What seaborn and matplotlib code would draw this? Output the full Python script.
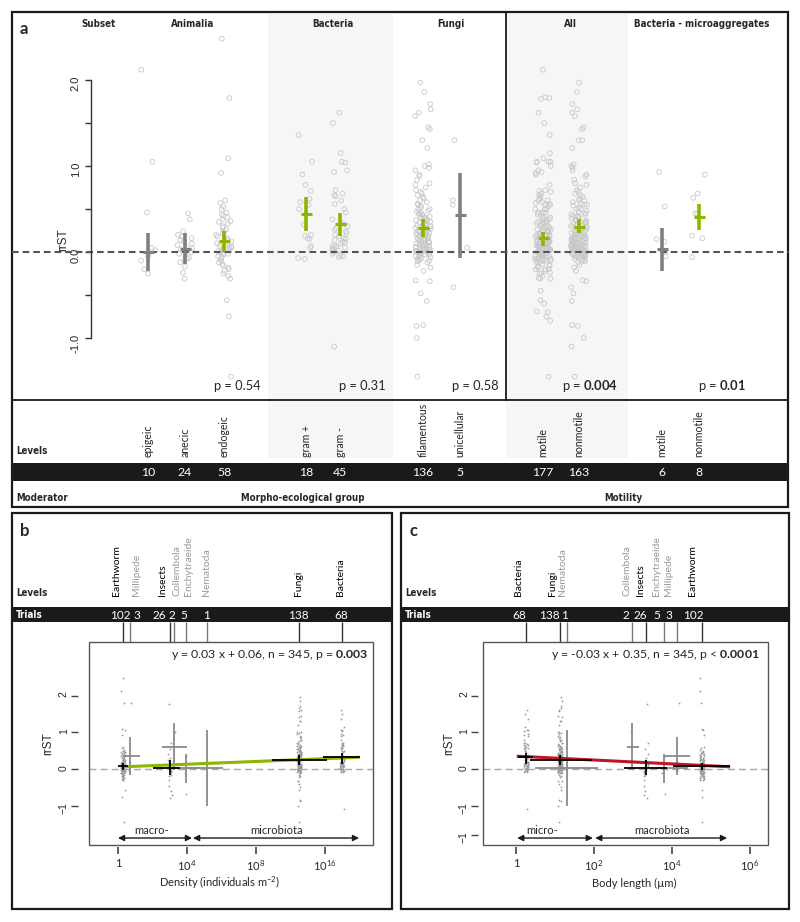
import numpy as np
import matplotlib
matplotlib.use('Agg')
import matplotlib.pyplot as plt
from matplotlib import font_manager
from matplotlib.font_manager import FontProperties
from matplotlib.patches import Rectangle
import seaborn as sns

# ---------------- data ----------------
# panel a: rrST of single trials per moderator level
epigeic = [2.12, 1.05, 0.46, 0.05, 0.02, -0.03, -0.05, -0.10, -0.20, -0.25]
anecic = [0.45, 0.38, 0.24, 0.20, 0.18, 0.16, 0.14, 0.12, 0.10, 0.08, 0.06, 0.04,
          0.03, 0.02, 0.00, -0.02, -0.04, -0.06, -0.08, -0.10, -0.12, -0.17, -0.24, -0.31]
endogeic = [2.48, 1.79, 1.09, 0.92, 0.60, 0.57, 0.53, 0.50, 0.46, 0.44,
            0.42, 0.40, 0.38, 0.36, 0.35, 0.33, 0.30, 0.28, 0.26, 0.24,
            0.22, 0.20, 0.18, 0.16, 0.15, 0.14, 0.12, 0.11, 0.10, 0.09,
            0.08, 0.07, 0.06, 0.05, 0.04, 0.03, 0.02, 0.01, 0.00, -0.01,
            -0.02, -0.03, -0.05, -0.06, -0.08, -0.10, -0.12, -0.14, -0.16, -0.18,
            -0.20, -0.22, -0.25, -0.28, -0.31, -0.56, -0.75, -1.45]
gram_pos = [1.36, 1.05, 0.90, 0.78, 0.71, 0.62, 0.58, 0.55, 0.50, 0.32, 0.20, 0.19,
            0.16, 0.15, 0.07, 0.05, -0.07, -0.08]
gram_neg = [1.62, 1.50, 1.15, 1.05, 1.04, 0.95, 0.93, 0.72, 0.68, 0.66,
            0.65, 0.60, 0.56, 0.50, 0.46, 0.38, 0.35, 0.32, 0.30, 0.28,
            0.26, 0.24, 0.22, 0.20, 0.18, 0.16, 0.15, 0.14, 0.12, 0.11,
            0.10, 0.08, 0.07, 0.06, 0.05, 0.04, 0.03, 0.02, 0.01, 0.00,
            -0.02, -0.04, -0.05, -0.06, -1.10]
filamentous = [1.97, 1.86, 1.72, 1.66, 1.62, 1.58, 1.45, 1.43, 1.30, 1.21,
               1.02, 1.00, 0.98, 0.95, 0.90, 0.88, 0.84, 0.80, 0.78, 0.75,
               0.72, 0.70, 0.68, 0.66, 0.64, 0.62, 0.60,
               0.58, 0.56, 0.55, 0.54, 0.52, 0.50, 0.50, 0.48, 0.47, 0.46,
               0.45, 0.44, 0.43, 0.42, 0.41, 0.40, 0.40, 0.39, 0.38, 0.37,
               0.36, 0.35, 0.35, 0.34, 0.33, 0.32, 0.32, 0.31, 0.30, 0.30,
               0.29, 0.28, 0.28, 0.27, 0.26, 0.26, 0.25, 0.25, 0.24, 0.24,
               0.23, 0.22, 0.22, 0.21, 0.21, 0.20, 0.20, 0.19, 0.18, 0.18,
               0.17, 0.16, 0.16, 0.15, 0.15, 0.14, 0.14, 0.13, 0.12, 0.12,
               0.11, 0.11, 0.10, 0.10, 0.09, 0.08, 0.08, 0.07, 0.07, 0.06,
               0.06, 0.05, 0.05, 0.04, 0.04, 0.03, 0.03, 0.02, 0.02, 0.01,
               0.01, 0.00, 0.00, -0.01, -0.01, -0.02, -0.03, -0.03, -0.04, -0.05,
               -0.05, -0.06, -0.07, -0.08, -0.09, -0.10, -0.11, -0.12,
               -0.15, -0.18, -0.22, -0.33, -0.34, -0.48, -0.57, -0.85, -0.86, -1.00, -1.45]
unicellular = [1.30, 0.60, 0.55, 0.05, -0.41]
micro_motile = [0.93, 0.53, 0.15, 0.12, 0.00, -0.05]
micro_nonmotile = [0.90, 0.68, 0.63, 0.45, 0.44, 0.19, 0.16, -0.06]

# other soil fauna (panels b, c)
insects = [1.78, 0.70, 0.55, 0.40, 0.30, 0.25, 0.20, 0.15, 0.12, 0.10, 0.08, 0.05, 0.03,
           0.02, 0.00, -0.02, -0.05, -0.08, -0.10, -0.15, -0.20, -0.30, -0.45, -0.60, -0.70, -0.80]
collembola = [1.00, 0.22]
enchytraeide = [0.35, 0.15, 0.05, -0.10, -0.69]
millipede = [1.80, 0.20, -0.05]
nematoda = [0.03]
earthworm_extra = [0.30, 0.25, 0.20, 0.15, 0.10, 0.08, 0.05, 0.00, -0.05, -0.10]

all_motile = (epigeic + anecic + endogeic[1:] + insects + collembola + enchytraeide
              + millipede + nematoda + gram_pos + gram_neg[:24])
all_nonmotile = filamentous + unicellular + gram_neg[24:]

a_groups = [epigeic, anecic, endogeic, gram_pos, gram_neg, filamentous, unicellular,
            all_motile, all_nonmotile, micro_motile, micro_nonmotile]
a_levels = ['epigeic', 'anecic', 'endogeic', 'gram +', 'gram -', 'filamentous',
            'unicellular', 'motile', 'nonmotile', 'motile', 'nonmotile']
a_counts = [10, 24, 58, 18, 45, 136, 5, 177, 163, 6, 8]
a_mean = [0.00, 0.03, 0.13, 0.44, 0.33, 0.28, 0.43, 0.16, 0.29, 0.03, 0.41]
a_lo = [-0.22, -0.14, 0.00, 0.24, 0.19, 0.17, -0.07, 0.07, 0.22, -0.22, 0.26]
a_hi = [0.22, 0.22, 0.25, 0.64, 0.45, 0.38, 0.92, 0.23, 0.38, 0.28, 0.56]
a_signif = [False, False, True, True, True, True, False, True, True, False, True]
subsets = ['Animalia', 'Bacteria', 'Fungi', 'All', 'Bacteria - microaggregates']
p_values = ['0.54', '0.31', '0.58', '0.004', '0.01']
p_bold = [False, False, False, True, True]
moderators = ['Morpho-ecological group', 'Motility']

# panels b and c: taxa, ordered by density
taxa = ['Earthworm', 'Millipede', 'Insects', 'Collembola', 'Enchytraeide',
        'Nematoda', 'Fungi', 'Bacteria']
taxa_vals = [epigeic + anecic + endogeic + earthworm_extra, millipede, insects,
             collembola, enchytraeide, nematoda, filamentous + unicellular,
             gram_pos + gram_neg]
trials = [102, 3, 26, 2, 5, 1, 138, 68]
major = [True, False, True, False, False, False, True, True]
tx_mean = [0.07, 0.35, 0.04, 0.60, 0.02, 0.03, 0.24, 0.32]
tx_lo = [-0.02, -0.16, -0.15, -0.03, -0.39, -1.00, 0.10, 0.14]
tx_hi = [0.16, 0.88, 0.25, 1.25, 0.41, 1.06, 0.38, 0.44]
# log10 density (individuals m-2), as placed on the drawn axis
dens_mid = [0.29, 0.70, 3.01, 3.25, 3.94, 5.16, 10.5, 12.99]
dens_min = [0.00, 0.29, 2.03, 2.55, 3.20, 4.00, 8.90, 11.90]
dens_max = [0.58, 1.28, 3.60, 4.00, 4.75, 6.10, 12.10, 14.00]
# log10 body length (um)
len_mid = [4.77, 4.13, 3.33, 2.97, 3.79, 1.31, 1.13, 0.26]
len_min = [4.03, 3.82, 2.77, 2.85, 3.60, 0.49, 0.36, 0.05]
len_max = [5.49, 4.46, 3.87, 3.15, 4.40, 2.10, 1.95, 0.44]
fit_b_x, fit_b_y = [0.29, 14.0], [0.06, 0.32]
fit_c_x, fit_c_y = [0.02, 5.49], [0.35, 0.06]
eq_b = 'y = 0.03 x + 0.06, n = 345, p = $\\mathbf{0.003}$'
eq_c = 'y = -0.03 x + 0.35, n = 345, p < $\\mathbf{0.0001}$'

# ---------------- layout (figure pixels) ----------------
a_xpos = [148, 185, 224, 306, 340, 423, 460, 543, 579, 662, 699]
subset_px = [193, 333, 451, 570, 702]
p_px = [237, 362, 475, 590, 722]
moder_px = [303, 623]
b_label_px = [117, 136, 163, 177, 188, 207, 298, 340]
b_count_px = [120, 137, 159, 172, 184, 207, 298, 341]
c_label_px = [518, 552, 562, 627, 640, 656, 668, 693]
c_count_px = [519, 549, 565, 626, 640, 657, 669, 693]

GREEN = '#8DB600'
GREY = '#808080'
RED = '#C0142A'

sns.set_theme(style='white')
plt.rcParams['font.family'] = ['Lato', 'DejaVu Sans']
plt.rcParams['mathtext.fontset'] = 'custom'
plt.rcParams['mathtext.rm'] = 'Lato'
plt.rcParams['mathtext.it'] = 'Lato:italic'
plt.rcParams['mathtext.bf'] = 'Lato:bold'
np.random.seed(7)

# condensed bold face for the header words, if one is installed
narrow_path = None
for f in font_manager.fontManager.ttflist:
    bold = f.weight in ('bold', 700, 'heavy', 800) or (isinstance(f.weight, int) and f.weight >= 700)
    cond = ('Narrow' in f.name or 'Condensed' in f.name
            or f.stretch in ('condensed', 'semi-condensed', 'extra-condensed'))
    if bold and cond and f.style == 'normal':
        narrow_path = f.fname
        break
if narrow_path:
    HEAD = dict(fontproperties=FontProperties(fname=narrow_path, size=7.0))
else:
    HEAD = dict(fontproperties=FontProperties(family='Liberation Sans', weight='bold',
                                              size=5.6))

fig = plt.figure(figsize=(8, 9.22), dpi=100)
cv = fig.add_axes([0, 0, 1, 1])
cv.set_xlim(0, 800)
cv.set_ylim(922, 0)
cv.axis('off')


def px_axes(x0, y0, x1, y1):
    ax = fig.add_axes([x0 / 800, 1 - y1 / 922, (x1 - x0) / 800, (y1 - y0) / 922])
    ax.set_facecolor('none')
    return ax


# ---------------- panel a ----------------
for x0, w in [(268, 125), (506, 122)]:
    cv.add_patch(Rectangle((x0, 14), w, 444, fc='#F6F6F6', ec='none'))
cv.add_patch(Rectangle((12, 12), 776, 495, fill=False, ec='k', lw=1.6))
cv.plot([12, 788], [400, 400], color='k', lw=1.3)
cv.plot([506, 506], [12, 400], color='k', lw=1.3)
cv.add_patch(Rectangle((12, 463), 776, 18, fc='k', ec='none'))

cv.text(20, 29, 'a', fontsize=12, fontweight='bold', va='center')
cv.text(99, 24, 'Subset', ha='center', va='center', **HEAD)
for x, s in zip(subset_px, subsets):
    cv.text(x, 24, s, ha='center', va='center', **HEAD)
for x, p, b in zip(p_px, p_values, p_bold):
    txt = 'p = $\\mathbf{%s}$' % p if b else 'p = ' + p
    cv.text(x, 386, txt, fontsize=9.3, ha='center', va='center')
cv.text(63, 240, 'rrST', family='Liberation Sans', fontsize=8.5, rotation=90,
        ha='center', va='center')
cv.text(16, 451, 'Levels', va='center', **HEAD)
for x, lev, n in zip(a_xpos, a_levels, a_counts):
    cv.text(x, 457, lev, rotation=90, fontsize=7.6, ha='center', va='bottom')
    cv.text(x, 472, str(n), color='white', fontsize=8.8, ha='center', va='center')
cv.text(16, 498, 'Moderator', va='center', **HEAD)
for x, m in zip(moder_px, moderators):
    cv.text(x, 498, m, ha='center', va='center', **HEAD)

ax_a = px_axes(12, 12, 789, 400)
for xp, vals in zip(a_xpos, a_groups):
    sns.stripplot(x=[xp] * len(vals), y=vals, native_scale=True, orient='x', jitter=8,
                  size=3.4, color='#C8C8C8', edgecolor='#C8C8C8', linewidth=0.6,
                  ax=ax_a, zorder=1)
for coll in ax_a.collections:
    coll.set_facecolor('none')
ax_a.axhline(0, color='#555555', lw=1.5, ls=(0, (3.2, 1.9)), zorder=2)
a_cols = [GREEN if s else GREY for s in a_signif]
ax_a.vlines(a_xpos, a_lo, a_hi, colors=a_cols, lw=2.6, zorder=3)
ax_a.hlines(a_mean, np.array(a_xpos) - 5.5, np.array(a_xpos) + 5.5, colors=a_cols,
            lw=2.2, zorder=3)
ax_a.set_xlim(12, 789)
ax_a.set_ylim(-1.721, 2.791)
for s in ['top', 'right', 'bottom']:
    ax_a.spines[s].set_visible(False)
ax_a.spines['left'].set_position(('data', 91))
ax_a.spines['left'].set_bounds(-1, 2)
ax_a.spines['left'].set_color('#333333')
ax_a.spines['left'].set_linewidth(1)
ax_a.set_xticks([])
ax_a.set_yticks([-1, -0.5, 0, 0.5, 1, 1.5, 2])
ax_a.set_yticklabels(['-1.0', '', '0.0', '', '1.0', '', '2.0'], family='Liberation Sans')
ax_a.tick_params(axis='y', direction='out', length=4.3, width=1, color='#333333',
                 labelsize=8, labelrotation=90, pad=3, left=True)
ax_a.set_xlabel('')
ax_a.set_ylabel('')


# ---------------- panels b and c ----------------
def side_panel(x0, w, letter, label_px, count_px, xmid, xmin, xmax, ax_box, xlim,
               xticks, xticklabels, yticks, yticklabels, yout, jit, fit_x, fit_y,
               fit_col, eq, eq_x, arrows, xlabel, xlabel_x):
    cv.add_patch(Rectangle((x0, 513), w, 396, fill=False, ec='k', lw=1.6))
    cv.add_patch(Rectangle((x0, 607), w, 15, fc='k', ec='none'))
    cv.text(x0 + 8, 531, letter, fontsize=12, fontweight='bold', va='center')
    cv.text(x0 + 4, 593, 'Levels', va='center', **HEAD)
    cv.text(x0 + 4, 615, 'Trials', color='white', va='center', **HEAD)
    order = np.argsort(xmid)
    for lx, cx, i in zip(label_px, count_px, order):
        cv.text(lx, 596, taxa[i], rotation=90, fontsize=7.5, ha='center', va='bottom',
                color='black' if major[i] else '#9A9A9A')
        cv.text(cx, 615, str(trials[i]), color='white', fontsize=8.5, ha='center',
                va='center')
    cv.text(eq_x, 655, eq, fontsize=8.8, ha='right', va='center')
    cv.text(xlabel_x, 883, xlabel, fontsize=8, ha='center', va='center')

    ax = px_axes(*ax_box)
    for xm, vals in zip(xmid, taxa_vals):
        sns.stripplot(x=[xm] * len(vals), y=vals, native_scale=True, orient='x',
                      jitter=jit, size=1.3, color='#9A9A9A', linewidth=0, ax=ax, zorder=1)
    ax.axhline(0, color='#A8A8A8', lw=1, ls=(0, (5, 3)), zorder=1.5)
    cols = ['black' if m else '#8A8A8A' for m in major]
    zs = [4 if m else 2.5 for m in major]
    for i in range(len(taxa)):
        ax.hlines(tx_mean[i], xmin[i], xmax[i], colors=cols[i], lw=1.3, zorder=zs[i])
        ax.vlines(xmid[i], tx_lo[i], tx_hi[i], colors=cols[i], lw=1.3, zorder=zs[i])
        ax.vlines(xmid[i], 1.0, 1 + 20 / 203, colors='#333333' if major[i] else '#777777',
                  lw=1, transform=ax.get_xaxis_transform(), clip_on=False)
    ax.plot(fit_x, fit_y, color=fit_col, lw=2.2, zorder=3, solid_capstyle='butt')
    for xa, xb, lab, xl in arrows:
        ax.annotate('', xy=(xb, -1.88), xytext=(xa, -1.88),
                    arrowprops=dict(arrowstyle='<|-|>', color='k', lw=1,
                                    mutation_scale=9, shrinkA=0, shrinkB=0))
        ax.text(xl, -1.68, lab, fontsize=8, ha='center', va='center')
    ax.add_patch(Rectangle((0, 0), 1, 1, transform=ax.transAxes, fill=False,
                           ec='#555555', lw=1, clip_on=False, zorder=5))
    ax.set_xlim(*xlim)
    ax.set_ylim(-2.07, 3.46)
    for s in ax.spines.values():
        s.set_visible(False)
    ax.spines['left'].set_position(('outward', yout))
    ax.spines['bottom'].set_position(('outward', 1.5))
    ax.set_yticks(yticks)
    ax.set_yticklabels(yticklabels, family='Liberation Sans')
    ax.set_xticks(xticks)
    ax.set_xticklabels(xticklabels)
    ax.tick_params(axis='y', direction='out', length=5, width=1, color='#444444',
                   labelsize=7.5, labelrotation=90, pad=1.5, left=True)
    ax.tick_params(axis='x', direction='out', length=5, width=1.2, color='#444444',
                   labelsize=8, pad=3, bottom=True)
    ax.set_xlabel('')
    ax.set_ylabel('rrST', family='Liberation Sans', fontsize=8.5, labelpad=3)
    return ax


side_panel(12, 380, 'b', b_label_px, b_count_px, dens_mid, dens_min, dens_max,
           (89, 642, 373, 845), (-1.68, 14.78), [0, 4, 8, 12],
           ['1', '$10^{4}$', '$10^{8}$', '$10^{16}$'], [-1, 0, 1, 2],
           ['\u22121', '0', '1', '2'], 8, 0.12, fit_b_x, fit_b_y, GREEN, eq_b, 368,
           [(0.0, 4.29, 'macro-', 1.97), (4.35, 13.97, 'microbiota', 9.2)],
           'Density (individuals m$^{-2}$)', 220)

side_panel(401, 388, 'c', c_label_px, c_count_px, len_mid, len_min, len_max,
           (483, 642, 768, 845), (-0.846, 6.46), [0, 2, 4, 6],
           ['1', '$10^{2}$', '$10^{4}$', '$10^{6}$'], [-1.8, -1, 0, 1, 2],
           ['\u22121', '\u22121', '0', '1', '2'], 3.6, 0.06, fit_c_x, fit_c_y, RED,
           eq_c, 760,
           [(0.03, 1.97, 'micro-', 0.67), (2.03, 5.41, 'macrobiota', 3.74)],
           'Body length (\u00b5m)', 634)

fig.savefig('out.png', dpi=100)
